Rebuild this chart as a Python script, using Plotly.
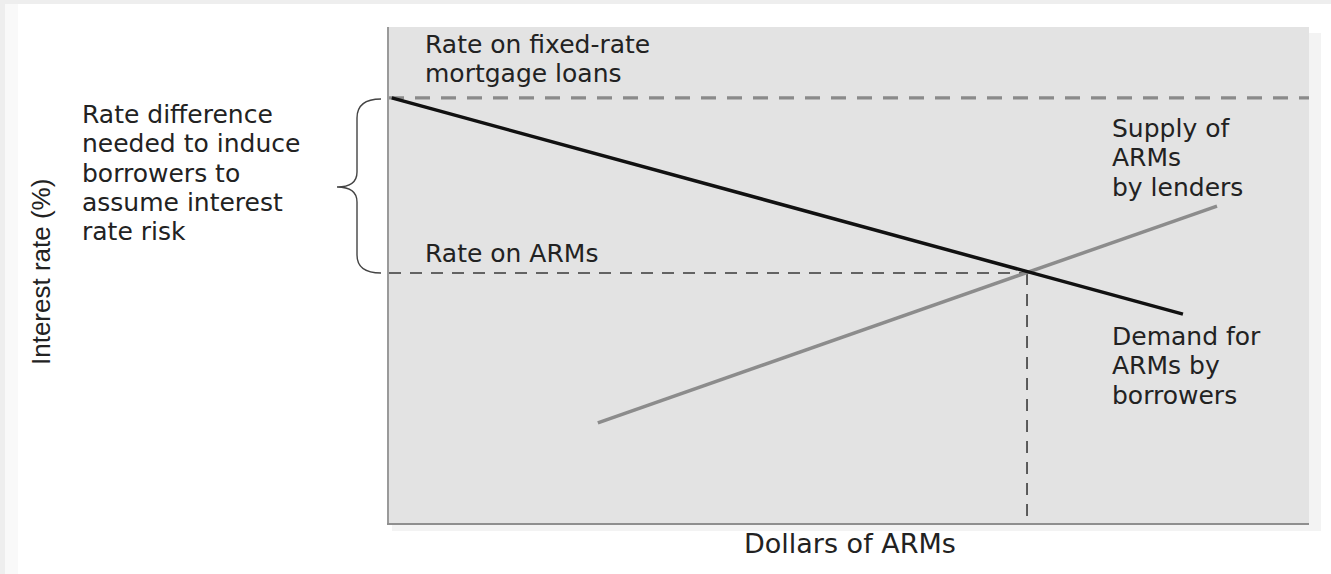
import plotly.graph_objects as go

# ---- data (chart units: 0..100 on both axes) ----
fixed_rate = 85.7          # rate on fixed-rate mortgage loans
arm_rate = 50.4            # equilibrium rate on ARMs
eq_quantity = 69.35        # equilibrium dollars of ARMs
demand_x = [0.3, 86.3]
demand_y = [85.7, 42.1]
supply_x = [22.7, 90.0]
supply_y = [20.2, 63.9]
x_range = [0, 100]
y_range = [0, 100]

W, H = 1331, 574
L, R, T, B = 389, 22, 27, 51
PW, PH = W - L - R, H - T - B


def px(xp):
    return (xp - L) / PW


def py(yp):
    return (H - B - yp) / PH


fig = go.Figure()

# fixed-rate dashed line
fig.add_trace(go.Scatter(x=x_range, y=[fixed_rate, fixed_rate], mode="lines",
                         line=dict(color="#8a8a8a", width=3.2, dash="15px,11px"),
                         hoverinfo="skip"))
# ARM rate dashed line
fig.add_trace(go.Scatter(x=[x_range[0], eq_quantity], y=[arm_rate, arm_rate], mode="lines",
                         line=dict(color="#3a3a3a", width=1.6, dash="12px,9px"),
                         hoverinfo="skip"))
# vertical dashed line at equilibrium quantity
fig.add_trace(go.Scatter(x=[eq_quantity, eq_quantity], y=[arm_rate, y_range[0]], mode="lines",
                         line=dict(color="#3a3a3a", width=1.6, dash="12px,9px"),
                         hoverinfo="skip"))
# supply
fig.add_trace(go.Scatter(x=supply_x, y=supply_y, mode="lines",
                         line=dict(color="#8c8c8c", width=3.5), hoverinfo="skip"))
# demand
fig.add_trace(go.Scatter(x=demand_x, y=demand_y, mode="lines",
                         line=dict(color="#111111", width=3.5), hoverinfo="skip"))

shapes = []
# outer light frame strips
shapes.append(dict(type="rect", xref="paper", yref="paper", x0=px(0), x1=px(W), y0=py(4), y1=py(0),
                   fillcolor="#eeeeee", line=dict(width=0), layer="below"))
shapes.append(dict(type="rect", xref="paper", yref="paper", x0=px(0), x1=px(5), y0=py(H), y1=py(0),
                   fillcolor="#eeeeee", line=dict(width=0), layer="below"))
shapes.append(dict(type="rect", xref="paper", yref="paper", x0=px(5), x1=px(18), y0=py(H), y1=py(4),
                   fillcolor="#f9f9f9", line=dict(width=0), layer="below"))
# shadow of plot panel
shapes.append(dict(type="rect", xref="paper", yref="paper", x0=px(392), x1=px(1321), y0=py(531), y1=py(33),
                   fillcolor="#f3f3f3", line=dict(width=0), layer="below"))
# plot panel
shapes.append(dict(type="rect", xref="paper", yref="paper", x0=0, x1=1, y0=0, y1=1,
                   fillcolor="#e3e3e3", line=dict(width=0), layer="below"))

# curly brace
pts = [("M", 381, 99), ("Q", 357, 99, 357, 118), ("L", 357, 172), ("Q", 357, 187, 337, 187),
       ("Q", 357, 187, 357, 202), ("L", 357, 255), ("Q", 357, 273, 381, 273)]
path = ""
for p in pts:
    cmd = p[0]
    coords = p[1:]
    seg = cmd + " " + " ".join(f"{px(coords[i]):.5f},{py(coords[i+1]):.5f}" for i in range(0, len(coords), 2))
    path += seg + " "
shapes.append(dict(type="path", xref="paper", yref="paper", path=path.strip(),
                   line=dict(color="#444444", width=1.4)))

FONT = "DejaVu Sans, Verdana, sans-serif"
FS = 25
TC = "#222222"

annotations = []


def add_lines(lines, x_left, first_baseline, step=29.4, size=FS):
    for i, t in enumerate(lines):
        base = first_baseline + i * step
        annotations.append(dict(text=t, xref="paper", yref="paper", x=px(x_left), y=py(base - 0.35 * size),
                                xanchor="left", yanchor="middle", showarrow=False, borderpad=0,
                                font=dict(family=FONT, size=size, color=TC)))


add_lines(["Rate on fixed-rate", "mortgage loans"], 424, 53)
add_lines(["Rate difference", "needed to induce", "borrowers to", "assume interest", "rate risk"], 81, 123)
add_lines(["Rate on ARMs"], 424, 262)
add_lines(["Supply of", "ARMs", "by lenders"], 1111, 137)
add_lines(["Demand for", "ARMs by", "borrowers"], 1111, 345)

# x-axis title
annotations.append(dict(text="Dollars of ARMs", xref="paper", yref="paper", x=px(850), y=py(553 - 0.35 * 27),
                        xanchor="center", yanchor="middle", showarrow=False, borderpad=0,
                        font=dict(family=FONT, size=27, color=TC)))
# y-axis title
annotations.append(dict(text="Interest rate (%)", xref="paper", yref="paper", x=px(41), y=py(272),
                        xanchor="center", yanchor="middle", showarrow=False, textangle=-90,
                        font=dict(family="Liberation Sans Narrow, Liberation Sans, Arial, sans-serif",
                                  size=26, color=TC)))

fig.update_layout(
    width=W, height=H,
    margin=dict(l=L, r=R, t=T, b=B, pad=0),
    paper_bgcolor="white",
    plot_bgcolor="rgba(0,0,0,0)",
    showlegend=False,
    shapes=shapes,
    annotations=annotations,
    xaxis=dict(range=x_range, showgrid=False, zeroline=False, showticklabels=False, ticks="",
               showline=True, linecolor="#8f8f8f", linewidth=2, fixedrange=True),
    yaxis=dict(range=y_range, showgrid=False, zeroline=False, showticklabels=False, ticks="",
               showline=True, linecolor="#9a9a9a", linewidth=2, fixedrange=True),
)

fig.write_html("out.html", config={"displayModeBar": False})
